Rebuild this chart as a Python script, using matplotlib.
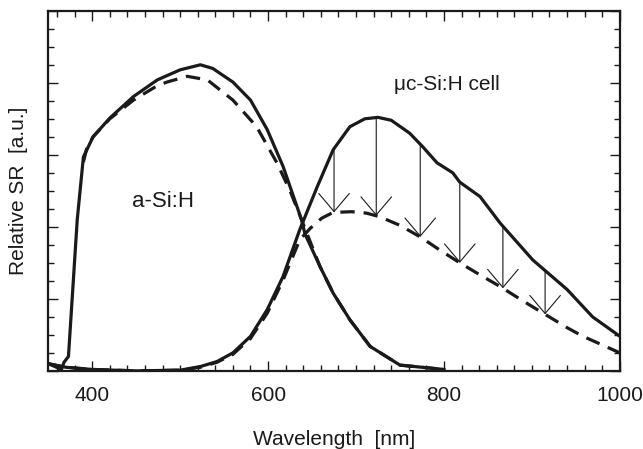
""" Relative spectral response of a-Si:H and uc-Si:H cells """
import numpy as np
import matplotlib
matplotlib.use('Agg')
import matplotlib.pyplot as plt
from matplotlib.ticker import MultipleLocator

plt.rcParams['font.family'] = ['Liberation Sans', 'DejaVu Sans']

# a-Si:H top cell (solid = initial, dashed = after)
asi_wl = [350, 365, 368, 373, 383, 390, 401, 420, 447, 474, 500, 523, 537,
          560, 580, 599, 617, 638, 642, 659, 674, 693, 716, 750, 800]
asi_sr = [0.10, 0.02, 0.12, 0.20, 2.10, 2.97, 3.25, 3.51, 3.81, 4.04, 4.18,
          4.25, 4.20, 4.01, 3.76, 3.35, 2.84, 2.10, 1.90, 1.45, 1.08, 0.71,
          0.34, 0.08, 0.02]
asi_wl_d = [390, 394, 401, 420, 447, 474, 485, 508, 531, 560, 587, 610, 625,
            638, 659, 674, 693, 716, 750, 800]
asi_sr_d = [2.90, 3.10, 3.25, 3.50, 3.76, 3.96, 4.01, 4.09, 4.04, 3.76, 3.39,
            2.89, 2.50, 2.10, 1.45, 1.08, 0.71, 0.34, 0.08, 0.02]

# uc-Si:H bottom cell
uc_wl = [350, 370, 400, 450, 500, 523, 542, 560, 580, 599, 617, 636, 656,
         674, 693, 710, 725, 740, 761, 776, 792, 810, 818, 841, 864, 901,
         940, 969, 1000]
uc_sr = [0.10, 0.05, 0.02, 0.00, 0.01, 0.06, 0.13, 0.25, 0.48, 0.85, 1.31,
         1.96, 2.56, 3.07, 3.39, 3.50, 3.52, 3.48, 3.30, 3.11, 2.89, 2.75,
         2.62, 2.42, 2.05, 1.54, 1.13, 0.75, 0.48]
uc_wl_d = [350, 370, 400, 450, 500, 523, 542, 560, 580, 599, 617, 636, 648,
           661, 674, 695, 712, 727, 750, 773, 795, 818, 840, 864, 890, 917,
           940, 958, 980, 1000]
uc_sr_d = [0.10, 0.05, 0.02, 0.00, 0.01, 0.05, 0.12, 0.23, 0.45, 0.80, 1.26,
           1.82, 1.98, 2.12, 2.20, 2.21, 2.19, 2.14, 2.02, 1.86, 1.68, 1.50,
           1.34, 1.17, 0.97, 0.77, 0.60, 0.48, 0.36, 0.25]

# wavelengths of the degradation arrows
arrow_wl = [675, 723, 773, 818, 867, 915]

fig = plt.figure(figsize=(6.43, 4.49), dpi=100)
ax = fig.add_axes([0.075, 0.174, 0.889, 0.802])

lc = '#1a1a1a'
ax.plot(asi_wl, asi_sr, color=lc, lw=2.3, solid_joinstyle='round')
ax.plot(asi_wl_d, asi_sr_d, color=lc, lw=2.3, ls=(0, (4.5, 2.8)))
ax.plot(uc_wl, uc_sr, color=lc, lw=2.3, solid_joinstyle='round')
ax.plot(uc_wl_d, uc_sr_d, color=lc, lw=2.3, ls=(0, (4.5, 2.8)))

# arrows from the solid to the dashed curve
for w in arrow_wl:
    y0 = np.interp(w, uc_wl, uc_sr)
    y1 = np.interp(w, uc_wl_d, uc_sr_d)
    ax.annotate('', xy=(w, y1), xytext=(w, y0),
                arrowprops=dict(arrowstyle='->,head_length=1.3,head_width=1.1',
                                color=lc, lw=0.8, shrinkA=0, shrinkB=0))

ax.text(480, 2.35, 'a-Si:H', fontsize=16, ha='center', va='center', color=lc)
ax.text(803, 3.97, 'μc-Si:H cell', fontsize=15, ha='center', va='center', color=lc)

ax.set_xlim(350, 1000)
ax.set_ylim(0, 5)
ax.xaxis.set_major_locator(MultipleLocator(200))
ax.xaxis.set_minor_locator(MultipleLocator(20))
ax.yaxis.set_major_locator(MultipleLocator(1))
ax.yaxis.set_minor_locator(MultipleLocator(0.25))
ax.tick_params(which='both', direction='in', top=True, right=True,
               width=1.0, colors=lc, labelsize=15, pad=11)
ax.tick_params(which='major', length=7)
ax.tick_params(which='minor', length=4)
ax.set_yticklabels([])
for s in ax.spines.values():
    s.set_linewidth(1.6)
    s.set_color(lc)

ax.set_xlabel('Wavelength  [nm]', fontsize=15, labelpad=18, color=lc)
# y label sits close to the frame since there are no tick labels
fig.text(0.029, 0.575, 'Relative SR  [a.u.]', fontsize=15, rotation=90,
         ha='center', va='center', color=lc)

plt.savefig('out.png', dpi=100)
